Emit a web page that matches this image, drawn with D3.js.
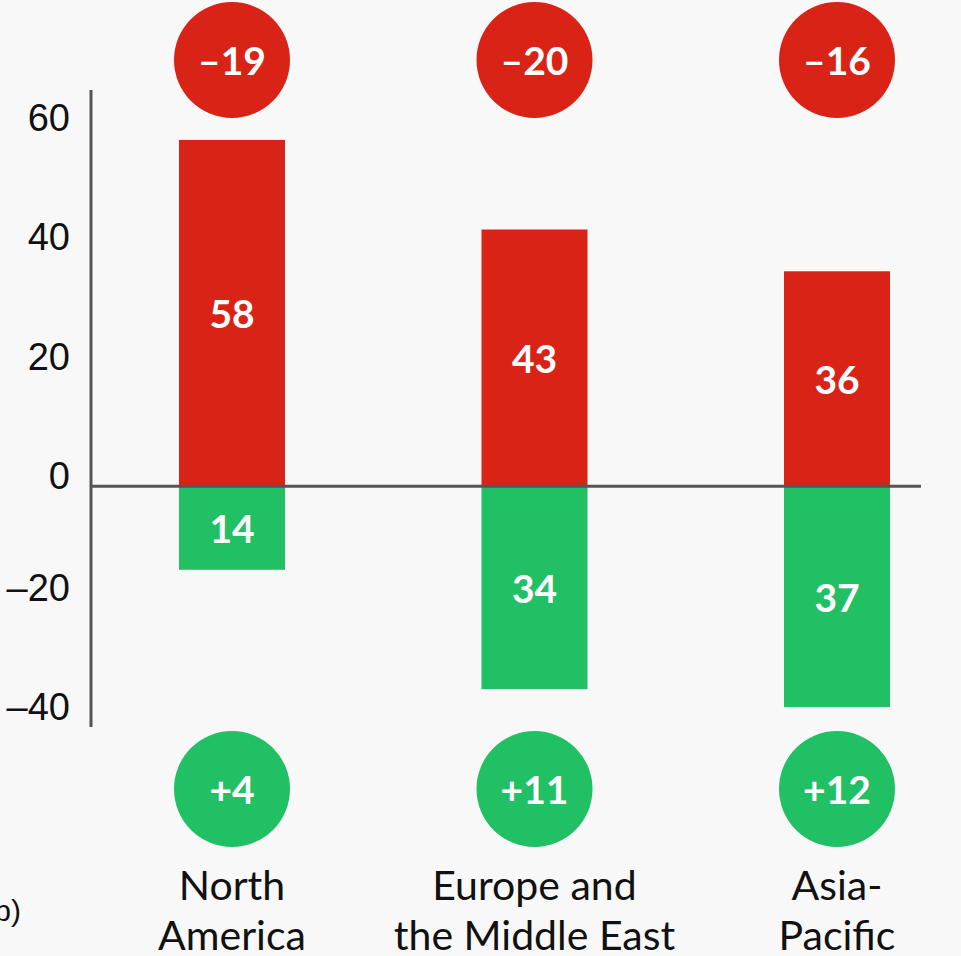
<!DOCTYPE html>
<html>
<head>
<meta charset="utf-8">
<script src="https://cdn.jsdelivr.net/npm/d3@7"></script>
<style>
  html, body { margin: 0; padding: 0; background: #f8f8f8; }
  svg { display: block; }
</style>
</head>
<body>
<svg id="chart" width="961" height="956"></svg>
<script>
// ---- data ----
const categories = ["North America", "Europe and the Middle East", "Asia-Pacific"];
const categoryLines = [["North", "America"], ["Europe and", "the Middle East"], ["Asia-", "Pacific"]];
const negativeValues = [58, 43, 36];     // red bars (above zero)
const positiveValues = [14, 34, 37];     // green bars (below zero)
const netNegative = ["–19", "–20", "–16"];
const netPositive = ["+4", "+11", "+12"];
const yTicks = [60, 40, 20, 0, -20, -40];
const yTickLabels = ["60", "40", "20", "0", "–20", "–40"];

// ---- layout ----
const W = 961, H = 956;
const red = "#d82316", green = "#22c064", axisColor = "#555555";
const svg = d3.select("#chart");
svg.append("rect").attr("width", W).attr("height", H).attr("fill", "#f8f8f8");

const axisX = 91, plotRight = 921, plotTop = 90;
const y = d3.scaleLinear().domain([-40, 60]).range([725, 128]);
const x = d3.scalePoint().domain(categories).range([232, 837]);
const barW = 106;

// bars
const g = svg.append("g");
g.selectAll("rect.neg").data(categories).join("rect")
  .attr("x", d => x(d) - barW / 2)
  .attr("y", (d, i) => y(negativeValues[i]))
  .attr("width", barW)
  .attr("height", (d, i) => y(0) - y(negativeValues[i]))
  .attr("fill", red);
g.selectAll("rect.pos").data(categories).join("rect")
  .attr("x", d => x(d) - barW / 2)
  .attr("y", y(0))
  .attr("width", barW)
  .attr("height", (d, i) => y(-positiveValues[i]) - y(0))
  .attr("fill", green);

// bar labels
const boldFont = "Lato, 'Open Sans', sans-serif";
g.selectAll("text.nl").data(categories).join("text")
  .attr("x", d => x(d))
  .attr("y", (d, i) => (y(negativeValues[i]) + y(0)) / 2)
  .attr("text-anchor", "middle").attr("dominant-baseline", "central")
  .attr("font-family", boldFont).attr("font-weight", 700).attr("font-size", 39)
  .attr("fill", "#fff")
  .text((d, i) => negativeValues[i]);
g.selectAll("text.pl").data(categories).join("text")
  .attr("x", d => x(d))
  .attr("y", (d, i) => (y(-positiveValues[i]) + y(0)) / 2)
  .attr("text-anchor", "middle").attr("dominant-baseline", "central")
  .attr("font-family", boldFont).attr("font-weight", 700).attr("font-size", 39)
  .attr("fill", "#fff")
  .text((d, i) => positiveValues[i]);

// axes lines
svg.append("line").attr("x1", axisX).attr("x2", axisX)
  .attr("y1", plotTop).attr("y2", y(-40) + 2)
  .attr("stroke", axisColor).attr("stroke-width", 3);
svg.append("line").attr("x1", axisX).attr("x2", plotRight)
  .attr("y1", y(0)).attr("y2", y(0))
  .attr("stroke", axisColor).attr("stroke-width", 3);

// y tick labels
svg.selectAll("text.yt").data(yTicks).join("text")
  .attr("x", 70)
  .attr("y", d => y(d) + (d < 0 ? -18 : -10))
  .attr("text-anchor", "end").attr("dominant-baseline", "central")
  .attr("font-family", "'Liberation Sans', Arial, sans-serif").attr("font-size", 38)
  .attr("fill", "#111")
  .text((d, i) => yTickLabels[i]);

// circles
const rC = 58;
const topCY = 60, botCY = 789;
svg.selectAll("circle.top").data(categories).join("circle")
  .attr("cx", d => x(d)).attr("cy", topCY).attr("r", rC).attr("fill", red);
svg.selectAll("circle.bot").data(categories).join("circle")
  .attr("cx", d => x(d)).attr("cy", botCY).attr("r", rC).attr("fill", green);
svg.selectAll("text.ct").data(categories).join("text")
  .attr("x", d => x(d)).attr("y", topCY)
  .attr("text-anchor", "middle").attr("dominant-baseline", "central")
  .attr("font-family", boldFont).attr("font-weight", 700).attr("font-size", 39)
  .attr("fill", "#fff")
  .text((d, i) => netNegative[i]);
svg.selectAll("text.cb").data(categories).join("text")
  .attr("x", d => x(d)).attr("y", botCY)
  .attr("text-anchor", "middle").attr("dominant-baseline", "central")
  .attr("font-family", boldFont).attr("font-weight", 700).attr("font-size", 39)
  .attr("fill", "#fff")
  .text((d, i) => netPositive[i]);

// category labels
const catG = svg.selectAll("text.cat").data(categories).join("text")
  .attr("x", d => x(d))
  .attr("text-anchor", "middle")
  .attr("font-family", "Lato, 'Noto Sans', sans-serif").attr("font-size", 41)
  .attr("fill", "#111");
catG.each(function(d, i) {
  const t = d3.select(this);
  categoryLines[i].forEach((line, j) => {
    t.append("tspan").attr("x", x(d)).attr("y", 900 + j * 50).text(line);
  });
});

// cropped unit label at left
svg.append("text").attr("x", 21).attr("y", 921)
  .attr("text-anchor", "end")
  .attr("font-family", "'Liberation Sans', Arial, sans-serif").attr("font-size", 30)
  .attr("fill", "#111").text("(pp)");
</script>
</body>
</html>
